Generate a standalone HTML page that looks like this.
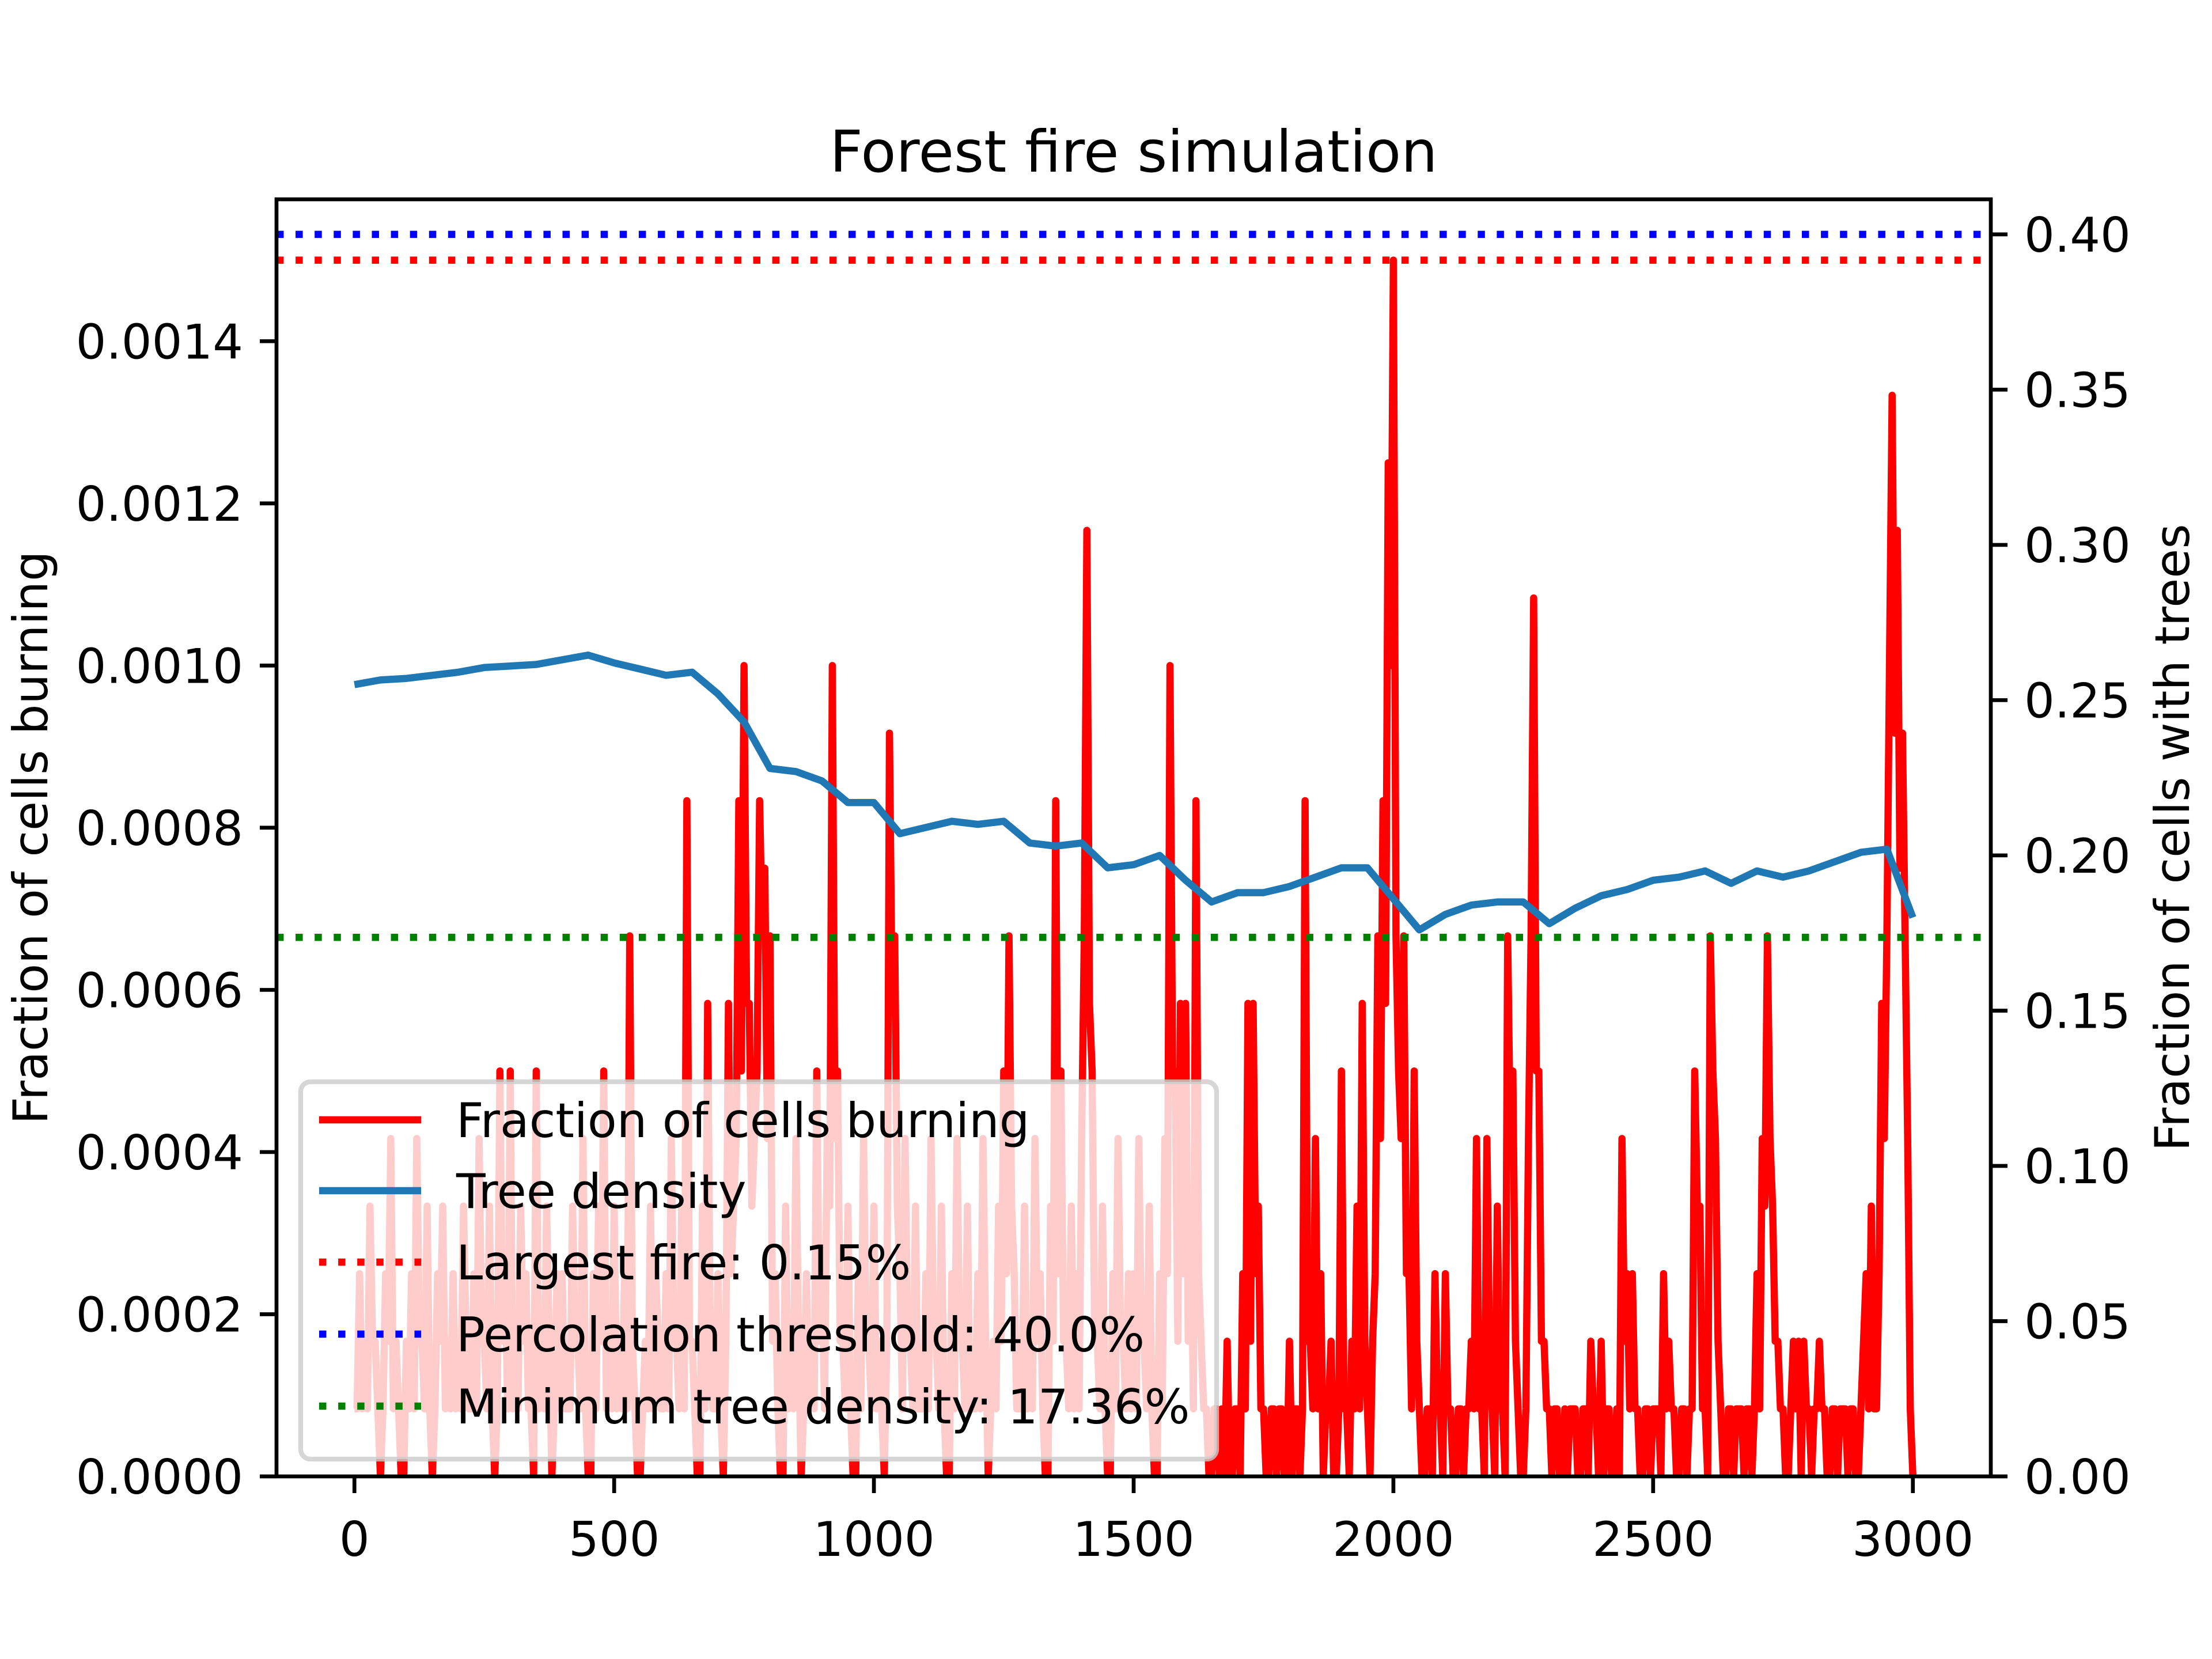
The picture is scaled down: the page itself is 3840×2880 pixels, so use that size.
<!DOCTYPE html>
<html><head><meta charset="utf-8"><style>
html,body{margin:0;padding:0;background:#fff;}
svg{display:block;}
text{font-family:"DejaVu Sans","Liberation Sans",sans-serif;fill:#000;}
</style></head>
<body>
<svg id="chart" width="3840" height="2880" viewBox="0 0 3840 2880" xmlns="http://www.w3.org/2000/svg">
<rect width="3840" height="2880" fill="#fff"/>
<defs><clipPath id="clip"><rect x="480" y="346" width="2976" height="2217"/></clipPath></defs>
<text x="1968" y="298" font-size="100" text-anchor="middle">Forest fire simulation</text>
<g id="plot" clip-path="url(#clip)"></g>
<g id="axes"></g>
<g id="legend"></g>
</svg>
<script>
const xTicks=[0,500,1000,1500,2000,2500,3000];
const leftTicks=[0,0.0002,0.0004,0.0006,0.0008,0.0010,0.0012,0.0014];
const leftTickLabels=["0.0000","0.0002","0.0004","0.0006","0.0008","0.0010","0.0012","0.0014"];
const rightTicks=[0,0.05,0.10,0.15,0.20,0.25,0.30,0.35,0.40];
const rightTickLabels=["0.00","0.05","0.10","0.15","0.20","0.25","0.30","0.35","0.40"];
const burnStep=5;
const burnUnit=1/12000;
const burnUnits=[
1,1,3,1,2,1,4,2,2,1,0,1,3,2,5,1,2,1,0,0,
2,1,3,1,5,2,2,1,4,1,0,1,3,2,4,1,2,1,3,1,
2,1,4,2,1,1,3,1,5,2,2,1,4,1,0,1,6,2,3,1,
6,1,2,1,4,2,3,1,1,0,6,1,2,1,4,2,0,1,3,1,
3,1,1,1,4,2,2,1,5,1,0,0,3,1,4,2,6,1,2,1,
4,1,2,1,3,1,8,2,1,0,0,1,2,1,4,1,3,2,1,1,
3,1,5,2,2,1,4,1,10,2,2,1,0,0,4,1,7,2,1,1,
3,1,0,2,7,3,4,5,10,6,12,7,7,4,5,6,10,8,9,5,
8,2,3,1,0,0,4,1,2,1,5,2,0,1,3,1,2,1,6,2,
3,1,5,4,12,5,6,2,2,1,4,1,0,0,3,1,5,2,2,1,
4,1,2,1,0,2,11,7,8,4,3,1,5,2,2,1,4,1,1,1,
3,1,5,2,2,1,4,1,0,0,3,1,5,2,2,1,4,1,1,1,
3,1,5,2,0,1,2,1,4,2,6,3,8,4,3,1,1,1,4,1,
2,1,5,2,3,1,0,0,4,2,10,3,6,2,2,1,4,1,3,1,
5,8,14,7,6,2,2,1,4,1,0,0,3,1,5,2,2,1,3,1,
3,1,5,2,2,1,4,1,0,0,3,1,5,3,12,6,6,2,7,3,
7,2,4,1,10,3,2,1,1,0,0,1,1,0,1,0,2,0,0,1,
1,0,3,1,7,2,7,3,4,1,1,0,0,1,1,0,1,1,0,0,
2,0,1,1,0,1,10,2,2,1,5,1,3,0,1,1,2,0,0,1,
6,1,1,0,2,1,4,1,7,2,1,0,2,3,8,5,10,7,15,12,
18,8,6,5,8,3,3,1,6,2,1,0,0,1,1,0,3,1,1,0,
3,1,1,0,0,1,1,0,1,1,2,1,5,1,1,0,5,2,1,0,
4,1,1,0,8,5,6,2,1,0,0,1,5,8,13,6,6,2,2,1,
1,0,1,1,0,0,1,0,1,1,1,0,0,1,1,0,2,1,1,0,
2,0,1,1,0,0,1,0,5,2,3,1,3,1,1,0,0,1,1,0,
1,1,1,0,3,1,2,1,1,0,0,1,1,0,1,1,6,4,4,1,
1,0,8,6,5,2,1,0,0,1,1,0,1,1,1,0,1,1,0,1,
3,1,5,4,8,5,4,2,2,1,1,0,0,1,2,1,2,0,2,1,
1,0,1,1,2,1,1,0,0,1,1,0,1,1,1,0,1,1,0,0,
1,2,3,1,4,1,1,3,7,5,8,12,16,11,14,9,11,8,5,1,
0];
const treeStep=50;
const treeDensity=[0.255,0.2565,0.257,0.258,0.259,0.2605,0.261,0.2615,0.263,0.2645,
0.262,0.260,0.258,0.259,0.252,0.243,0.228,0.227,0.224,0.217,
0.217,0.207,0.209,0.211,0.210,0.211,0.204,0.203,0.204,0.196,
0.197,0.200,0.192,0.185,0.188,0.188,0.190,0.193,0.196,0.196,
0.186,0.176,0.181,0.184,0.185,0.185,0.178,0.183,0.187,0.189,
0.192,0.193,0.195,0.191,0.195,0.193,0.195,0.198,0.201,0.202,0.180];
const largestFire=0.0015;
const percolation=0.40;
const minTree=0.1736;

const AX={l:480,r:3456,t:346,b:2563};
const xMin=-150,xMax=3150,lMax=0.001575,rMax=0.4113;
const sx=v=>AX.l+(v-xMin)/(xMax-xMin)*(AX.r-AX.l);
const syL=v=>AX.b-v/lMax*(AX.b-AX.t);
const syR=v=>AX.b-v/rMax*(AX.b-AX.t);
const NS="http://www.w3.org/2000/svg";
function mk(tag,attrs,parent){const e=document.createElementNS(NS,tag);for(const k in attrs)e.setAttribute(k,attrs[k]);parent.appendChild(e);return e;}
const plot=document.getElementById('plot'),axes=document.getElementById('axes'),leg=document.getElementById('legend');

let d='';burnUnits.forEach((u,i)=>{d+=(i?'L':'M')+sx(i*burnStep).toFixed(1)+','+syL(u*burnUnit).toFixed(1);});
const red=mk('path',{d:d,fill:'none',stroke:'#ff0000','stroke-width':12.5,'stroke-linejoin':'round'},plot);


const h1=mk('line',{x1:AX.l,x2:AX.r,y1:syL(largestFire),y2:syL(largestFire),stroke:'#ff0000','stroke-width':12.5,'stroke-dasharray':'12.5 20.6'},plot);


let d2='';treeDensity.forEach((v,i)=>{d2+=(i?'L':'M')+sx(i*treeStep).toFixed(1)+','+syR(v).toFixed(1);});
const blue=mk('path',{d:d2,fill:'none',stroke:'#1f77b4','stroke-width':12.5,'stroke-linejoin':'round'},plot);


const h2=mk('line',{x1:AX.l,x2:AX.r,y1:syR(percolation),y2:syR(percolation),stroke:'#0000ff','stroke-width':12.5,'stroke-dasharray':'12.5 20.6'},plot);


const h3=mk('line',{x1:AX.l,x2:AX.r,y1:syR(minTree),y2:syR(minTree),stroke:'#008000','stroke-width':12.5,'stroke-dasharray':'12.5 20.6'},plot);



const fr=mk('rect',{x:AX.l,y:AX.t,width:AX.r-AX.l,height:AX.b-AX.t,fill:'none',stroke:'#000','stroke-width':6.7},axes);


xTicks.forEach(v=>{const x=sx(v);
const t=mk('line',{x1:x,x2:x,y1:AX.b,y2:AX.b+29,stroke:'#000','stroke-width':6.7},axes);


const l=mk('text',{x:x,y:AX.b+138,'font-size':83,'text-anchor':'middle'},axes);l.textContent=String(v);

});
leftTicks.forEach((v,i)=>{const y=syL(v);
const t=mk('line',{x1:AX.l-29,x2:AX.l,y1:y,y2:y,stroke:'#000','stroke-width':6.7},axes);


const l=mk('text',{x:AX.l-58,y:y+30,'font-size':83,'text-anchor':'end'},axes);l.textContent=leftTickLabels[i];

});
rightTicks.forEach((v,i)=>{const y=syR(v);
const t=mk('line',{x1:AX.r,x2:AX.r+29,y1:y,y2:y,stroke:'#000','stroke-width':6.7},axes);


const l=mk('text',{x:AX.r+58,y:y+30,'font-size':83,'text-anchor':'start'},axes);l.textContent=rightTickLabels[i];

});
const yl=mk('text',{x:0,y:0,'font-size':83,'text-anchor':'middle',transform:'translate(82,1454) rotate(-90)'},axes);yl.textContent='Fraction of cells burning';


const yr=mk('text',{x:0,y:0,'font-size':83,'text-anchor':'middle',transform:'translate(3800,1454) rotate(-90)'},axes);yr.textContent='Fraction of cells with trees';



const box=mk('rect',{x:522,y:1878,width:1590,height:655,rx:17,fill:'#fff','fill-opacity':0.8,stroke:'#cccccc','stroke-opacity':0.8,'stroke-width':8.3},leg);


const entries=[['Fraction of cells burning','#ff0000',''],['Tree density','#1f77b4',''],['Largest fire: 0.15%','#ff0000','12.5 20.6'],['Percolation threshold: 40.0%','#0000ff','12.5 20.6'],['Minimum tree density: 17.36%','#008000','12.5 20.6']];
const rowsY=[1944,2067,2191,2316,2441];
entries.forEach((e,i)=>{const y=rowsY[i];
const ln=mk('line',{x1:554,x2:731,y1:y,y2:y,stroke:e[1],'stroke-width':12.5},leg);
if(e[2])ln.setAttribute('stroke-dasharray',e[2]);


const t=mk('text',{x:792,y:y+30,'font-size':83},leg);t.textContent=e[0];

});
</script>
</body></html>
